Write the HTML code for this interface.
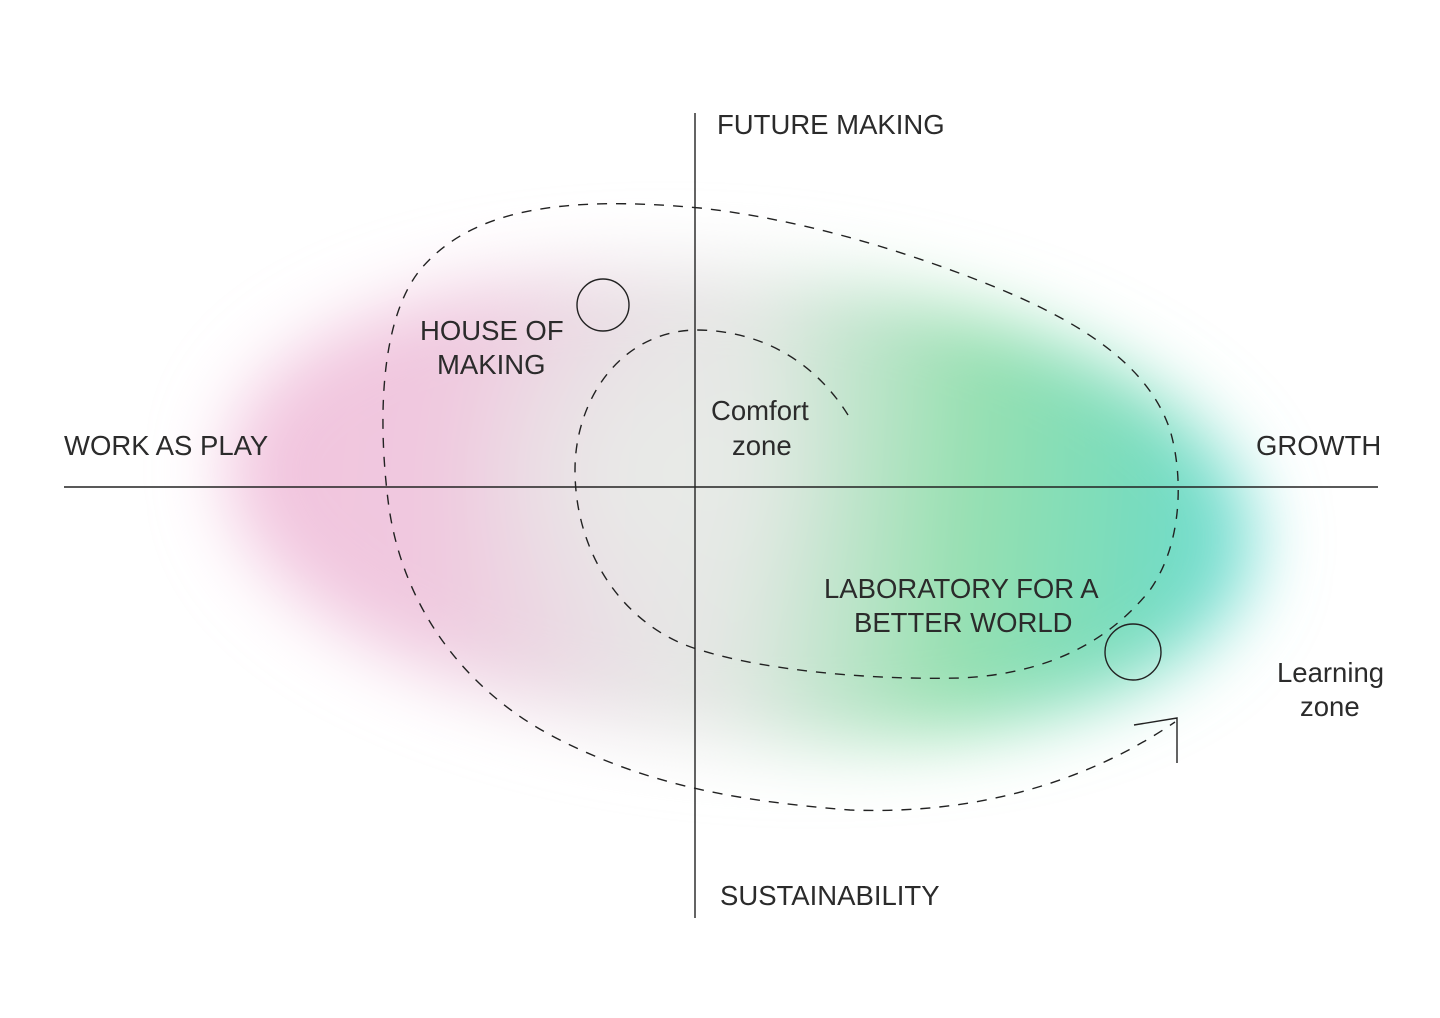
<!DOCTYPE html>
<html><head><meta charset="utf-8"><style>
html,body{margin:0;padding:0;background:#fff;}
svg{display:block}
text{font-family:"Liberation Sans",Arial,sans-serif;fill:#2b2b2b;font-size:27.5px;letter-spacing:0px}
</style></head><body>
<svg width="1440" height="1018" viewBox="0 0 1440 1018" xmlns="http://www.w3.org/2000/svg">
<defs>
<linearGradient id="g" x1="0" y1="0" x2="1" y2="0">
<stop offset="0" stop-color="#f2c4de"/>
<stop offset="0.2" stop-color="#f0c8df"/>
<stop offset="0.4" stop-color="#e8e2e5"/>
<stop offset="0.5" stop-color="#e4e8e4"/>
<stop offset="0.72" stop-color="#96e0b0"/>
<stop offset="0.88" stop-color="#78dcbc"/>
<stop offset="1" stop-color="#6ddcd6"/>
</linearGradient>
<radialGradient id="c" cx="0.5" cy="0.5" r="0.5">
<stop offset="0" stop-color="#e8ece8" stop-opacity="0.9"/>
<stop offset="1" stop-color="#e8ece8" stop-opacity="0"/>
</radialGradient>
<filter id="b" x="-20%" y="-30%" width="140%" height="160%"><feGaussianBlur stdDeviation="36"/></filter>
</defs>
<g filter="url(#b)">
<ellipse cx="740" cy="505" rx="515" ry="235" fill="url(#g)" transform="rotate(5 740 505)"/>
<ellipse cx="650" cy="470" rx="200" ry="170" fill="url(#c)"/>
</g>
<g stroke="#222" stroke-width="1.4" fill="none">
<line x1="695" y1="113" x2="695" y2="918"/>
<line x1="64" y1="487" x2="1378" y2="487"/>
<circle cx="603" cy="305" r="26"/>
<circle cx="1133" cy="652" r="28"/>
<polyline points="1134,725 1177,718 1177,763"/>
</g>
<g stroke="#222" stroke-width="1.4" fill="none" stroke-dasharray="10 9">
<path d="M848,415 C820,370 770,330 695,330 C620,332 575,400 575,470 C575,560 630,630 700,650 C770,672 880,680 960,678 C1050,674 1110,640 1150,590 C1185,540 1182,470 1170,430 C1150,370 1090,325 990,285 C890,245 790,218 700,208 C560,195 470,210 420,270 C380,320 378,420 388,500 C400,600 460,690 560,740 C640,780 720,800 850,810 C980,815 1090,780 1175,722"/>
</g>
<text x="717" y="134">FUTURE MAKING</text>
<text x="720" y="905">SUSTAINABILITY</text>
<text x="64" y="455">WORK AS PLAY</text>
<text x="1256" y="455">GROWTH</text>
<text x="420" y="340">HOUSE OF</text>
<text x="437" y="374">MAKING</text>
<text x="711" y="420">Comfort</text>
<text x="732" y="455">zone</text>
<text x="824" y="598">LABORATORY FOR A</text>
<text x="854" y="632">BETTER WORLD</text>
<text x="1277" y="682">Learning</text>
<text x="1300" y="716">zone</text>
</svg>
</body></html>
